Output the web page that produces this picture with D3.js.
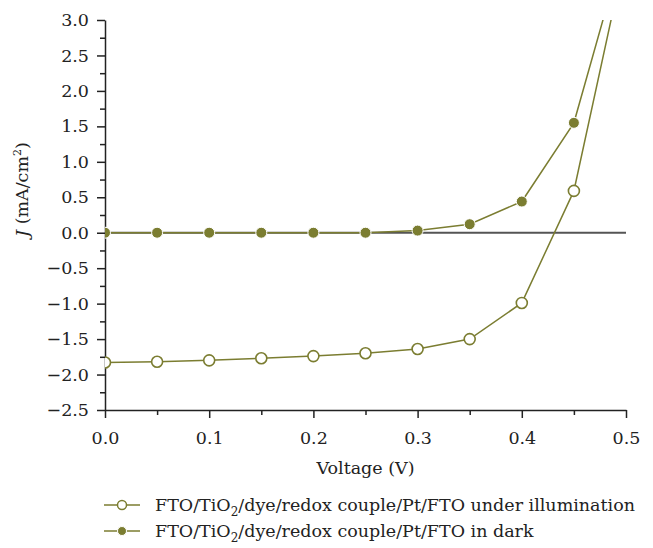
<!DOCTYPE html>
<html>
<head>
<meta charset="utf-8">
<script src="https://cdn.jsdelivr.net/npm/d3@7"></script>
<style>
  body { margin: 0; background: #fff; }
  svg text { font-family: "DejaVu Serif", "Liberation Serif", serif; fill: #222; }
</style>
</head>
<body>
<script>
// voltage steps (V)
var voltage = [0.00, 0.05, 0.10, 0.15, 0.20, 0.25, 0.30, 0.35, 0.40, 0.45, 0.50];
// current density (mA/cm2)
var illuminated = [-1.83, -1.82, -1.80, -1.77, -1.74, -1.70, -1.64, -1.50, -0.99, 0.59, 3.97];
var dark = [0.00, 0.00, 0.00, 0.00, 0.00, 0.00, 0.03, 0.12, 0.44, 1.55, 4.15];
var xTicks = [0, 0.1, 0.2, 0.3, 0.4, 0.5];
var yTicks = [-2.5, -2.0, -1.5, -1.0, -0.5, 0, 0.5, 1.0, 1.5, 2.0, 2.5, 3.0];

var olive = "#7b7d31";
var fs = "17.5px";

var svg = d3.select("body").append("svg").attr("width", 653).attr("height", 548),
    margin = {top: 20, right: 27, bottom: 138, left: 105},
    width = 653 - margin.left - margin.right,
    height = 548 - margin.top - margin.bottom;

var x = d3.scaleLinear().domain([0, 0.5]).range([0, width]),
    y = d3.scaleLinear().domain([-2.5, 3.0]).range([height, 0]);

var g = svg.append("g").attr("transform", "translate(" + margin.left + "," + margin.top + ")");

svg.append("defs").append("clipPath").attr("id", "clip")
  .append("rect").attr("x", 0).attr("y", 0).attr("width", width).attr("height", height);

var fmt = d => d3.format(".1f")(d).replace("-", "\u2212");

// minor ticks first
g.append("g")
    .attr("transform", "translate(0," + height + ")")
    .call(d3.axisBottom(x).tickValues(d3.range(0.05, 0.5, 0.1)).tickSize(5).tickFormat(""))
    .call(a => a.select(".domain").remove());
g.append("g")
    .call(d3.axisLeft(y).tickValues(d3.range(-2.25, 3.0, 0.5)).tickSize(5).tickFormat(""))
    .call(a => a.select(".domain").remove());

var xAxis = g.append("g")
    .attr("transform", "translate(0," + height + ")")
    .call(d3.axisBottom(x).tickValues(xTicks).tickSize(8).tickSizeOuter(0).tickPadding(14).tickFormat(fmt));
xAxis.selectAll("text").style("font-size", fs);

var yAxis = g.append("g")
    .call(d3.axisLeft(y).tickValues(yTicks).tickSize(8).tickSizeOuter(0).tickPadding(8).tickFormat(fmt));
yAxis.selectAll("text").style("font-size", fs);

svg.selectAll(".domain").attr("stroke", "#222").attr("stroke-width", 1.5);
svg.selectAll(".tick line").attr("stroke", "#222").attr("stroke-width", 1.5);

// zero line
g.append("line")
    .attr("x1", 0).attr("x2", width)
    .attr("y1", y(0)).attr("y2", y(0))
    .attr("stroke", "#555").attr("stroke-width", 2);

var line = d3.line().x((d, i) => x(voltage[i])).y(d => y(d));

var plot = g.append("g").attr("clip-path", "url(#clip)");

function series(vals, filled) {
  plot.append("path")
      .datum(vals)
      .attr("fill", "none")
      .attr("stroke", olive)
      .attr("stroke-width", 1.5)
      .attr("d", line);
  plot.selectAll(null)
    .data(vals.filter(v => v <= 3.0))
    .enter().append("circle")
      .attr("cx", (d, i) => x(voltage[i]))
      .attr("cy", d => y(d))
      .attr("r", 5.5)
      .attr("fill", filled ? olive : "#fff")
      .attr("stroke", filled ? "#fff" : olive)
      .attr("stroke-width", filled ? 1 : 1.6);
}
series(illuminated, false);
series(dark, true);

// axis titles
svg.append("text")
    .attr("x", margin.left + width / 2)
    .attr("y", 474)
    .attr("text-anchor", "middle")
    .style("font-size", fs)
    .text("Voltage (V)");

var yl = svg.append("text")
    .attr("transform", "translate(28," + (margin.top + y(0.75) + 10) + ") rotate(-90)")
    .attr("text-anchor", "middle")
    .style("font-size", fs);
yl.append("tspan").style("font-style", "italic").text("J");
yl.append("tspan").text(" (mA/cm");
yl.append("tspan").attr("dy", -7).style("font-size", "11px").text("2");
yl.append("tspan").attr("dy", 7).text(")");

// legend
var legendLabels = ["under illumination", "in dark"];
var leg = svg.append("g").attr("transform", "translate(104,505)");
legendLabels.forEach(function (lab, i) {
  var row = leg.append("g").attr("transform", "translate(0," + (i * 26) + ")");
  row.append("line").attr("x1", 0).attr("x2", 36).attr("y1", 0).attr("y2", 0)
      .attr("stroke", olive).attr("stroke-width", 1.5);
  row.append("circle").attr("cx", 18).attr("cy", 0).attr("r", 4.5)
      .attr("fill", i === 0 ? "#fff" : olive)
      .attr("stroke", i === 0 ? olive : "#fff")
      .attr("stroke-width", i === 0 ? 1.5 : 1);
  var t = row.append("text").attr("x", 51).attr("y", 6).style("font-size", fs);
  t.append("tspan").text("FTO/TiO");
  t.append("tspan").attr("dy", 5).style("font-size", "12px").text("2");
  t.append("tspan").attr("dy", -5).text("/dye/redox couple/Pt/FTO " + lab);
});
</script>
</body>
</html>
